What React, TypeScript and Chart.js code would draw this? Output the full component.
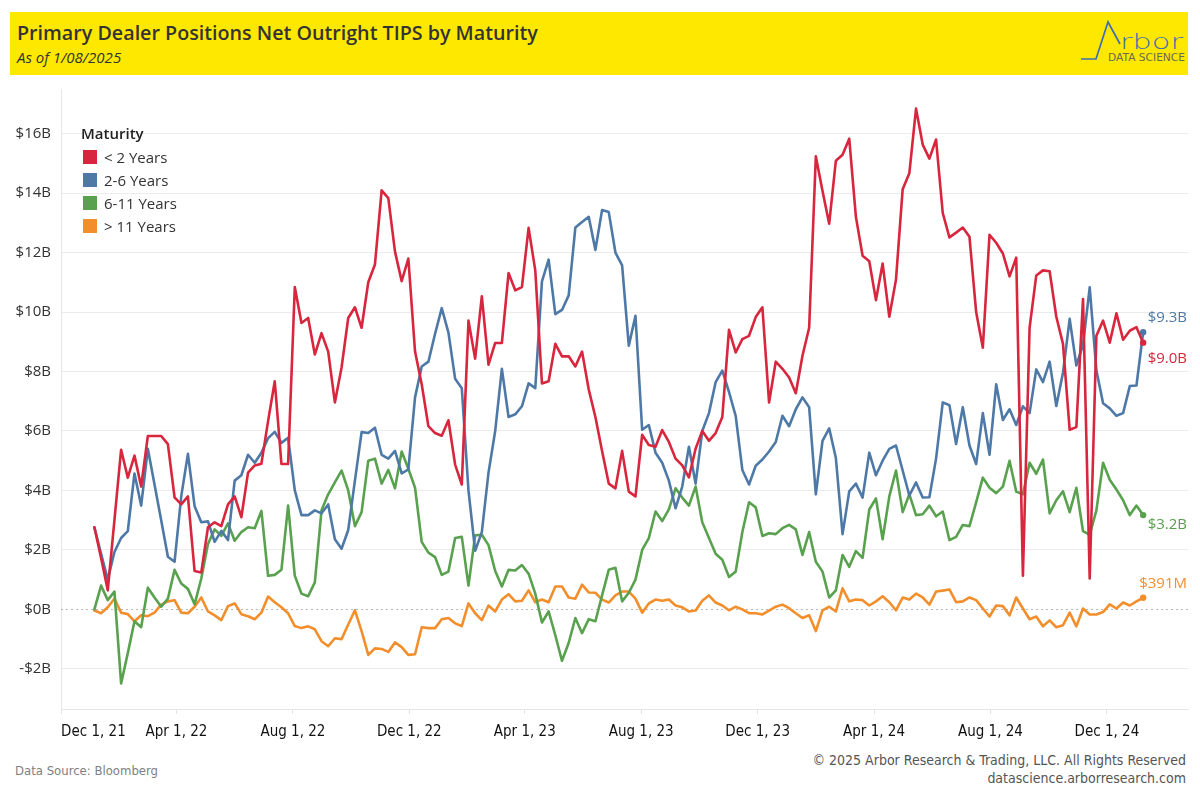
import React, { useEffect, useRef } from "react";
import { Chart, registerables } from "chart.js";

Chart.register(...registerables);

// ---------- DATA ----------
const firstWeek = "2022-01-05"; // weekly (Wednesday) observations
const weekCount = 158;

const seriesNames = ["< 2 Years", "2-6 Years", "6-11 Years", "> 11 Years"];
const seriesColors = ["#D7263D", "#4E79A7", "#59A14F", "#F28E2B"];

const under2Years = [
  2.76, 1.73, 0.64, 3.0, 5.37, 4.43, 5.17, 4.13, 5.83, 5.83,
  5.83, 5.56, 3.77, 3.53, 3.8, 1.29, 1.24, 2.76, 2.93, 2.8,
  3.53, 3.8, 3.1, 4.6, 4.84, 4.9, 6.33, 7.67, 4.89, 4.89,
  10.84, 9.63, 9.8, 8.57, 9.29, 8.67, 6.96, 8.13, 9.8, 10.16,
  9.47, 11.0, 11.6, 14.09, 13.83, 12.03, 11.04, 11.8, 8.67, 7.57,
  6.16, 5.93, 5.84, 6.36, 4.87, 4.2, 9.71, 8.43, 10.53, 8.23,
  8.96, 8.96, 11.31, 10.73, 10.84, 12.83, 11.4, 7.6, 7.67, 8.93,
  8.51, 8.51, 8.17, 8.67, 7.4, 6.47, 5.33, 4.23, 4.07, 5.33,
  3.96, 3.8, 5.87, 5.53, 5.47, 6.03, 5.63, 5.07, 4.84, 4.44,
  5.4, 6.0, 5.67, 5.93, 6.47, 9.4, 8.64, 9.09, 9.2, 9.83,
  10.16, 6.96, 8.33, 8.09, 7.8, 7.27, 8.53, 9.47, 15.24, 14.07,
  12.97, 15.09, 15.29, 15.83, 13.2, 11.89, 11.71, 10.4, 11.63, 9.84,
  11.09, 14.13, 14.67, 16.84, 15.63, 15.16, 15.8, 13.33, 12.51, 12.67,
  12.84, 12.53, 10.0, 8.8, 12.6, 12.33, 11.97, 11.2, 11.83, 1.13,
  9.47, 11.23, 11.4, 11.37, 9.84, 8.93, 6.04, 6.13, 10.44, 1.04,
  9.2, 9.71, 8.97, 9.96, 9.07, 9.37, 9.49, 8.97,
];

const years2to6 = [
  2.76, 1.87, 1.0, 1.93, 2.4, 2.63, 4.57, 3.49, 5.4, 4.2,
  3.0, 1.77, 1.6, 3.8, 5.23, 3.47, 2.93, 2.96, 2.27, 2.64,
  2.33, 4.33, 4.51, 5.2, 4.93, 5.27, 5.76, 5.97, 5.6, 5.77,
  4.0, 3.17, 3.17, 3.33, 3.23, 3.53, 2.36, 2.04, 2.67, 4.33,
  5.96, 5.93, 6.11, 5.2, 5.07, 5.33, 4.57, 4.71, 7.13, 8.17,
  8.33, 9.27, 10.13, 9.31, 7.76, 7.44, 4.0, 1.97, 2.6, 4.6,
  6.0, 8.09, 6.47, 6.56, 6.83, 7.6, 7.44, 11.03, 11.76, 9.93,
  10.07, 10.56, 12.84, 13.03, 13.2, 12.09, 13.43, 13.36, 12.0, 11.57,
  8.87, 9.87, 6.04, 6.2, 5.27, 4.93, 4.33, 3.4, 4.13, 5.47,
  4.23, 6.0, 6.6, 7.64, 8.03, 7.31, 6.51, 4.69, 4.2, 4.83,
  5.04, 5.31, 5.63, 6.51, 6.16, 6.73, 7.13, 6.8, 3.87, 5.67,
  6.09, 5.09, 2.53, 3.97, 4.23, 3.76, 5.27, 4.51, 5.0, 5.4,
  5.51, 4.67, 3.83, 4.27, 3.76, 3.77, 5.07, 6.96, 6.87, 5.56,
  6.8, 5.51, 4.89, 6.6, 5.2, 7.57, 6.37, 6.73, 6.2, 6.83,
  6.6, 8.07, 7.64, 8.33, 6.84, 7.96, 9.77, 8.2, 8.9, 10.83,
  8.04, 6.93, 6.76, 6.51, 6.6, 7.51, 7.53, 9.32,
];

const years6to11 = [
  0.0, 0.8, 0.31, 0.6, -2.49, -1.47, -0.4, -0.6, 0.73, 0.4,
  0.09, 0.36, 1.33, 0.87, 0.69, 0.17, 1.04, 2.2, 2.69, 2.47,
  2.89, 2.31, 2.6, 2.76, 2.73, 3.31, 1.13, 1.16, 1.33, 3.49,
  1.13, 0.53, 0.44, 0.91, 3.33, 3.87, 4.27, 4.67, 4.0, 2.8,
  3.27, 5.0, 5.07, 4.23, 4.69, 4.07, 5.31, 4.73, 4.09, 2.27,
  1.91, 1.76, 1.16, 1.27, 2.4, 2.44, 0.8, 2.49, 2.51, 2.16,
  1.29, 0.77, 1.33, 1.31, 1.49, 1.2, 0.53, -0.44, -0.07, -0.87,
  -1.73, -1.13, -0.29, -0.8, -0.33, -0.4, 0.47, 1.33, 1.4, 0.27,
  0.56, 1.0, 2.0, 2.4, 3.29, 2.97, 3.36, 4.07, 3.76, 3.49,
  4.13, 2.93, 2.4, 1.87, 1.67, 1.09, 1.27, 2.6, 3.6, 3.43,
  2.47, 2.56, 2.53, 2.73, 2.84, 2.69, 1.83, 2.6, 1.6, 1.27,
  0.4, 0.64, 1.83, 1.43, 1.96, 1.73, 3.36, 3.73, 2.36, 3.8,
  4.67, 3.27, 3.87, 3.17, 3.2, 3.49, 3.13, 3.29, 2.33, 2.44,
  2.84, 2.8, 3.6, 4.43, 4.09, 3.91, 4.13, 5.0, 3.96, 3.87,
  4.93, 4.56, 5.04, 3.23, 3.67, 3.97, 3.27, 4.09, 2.63, 2.51,
  3.33, 4.93, 4.36, 4.03, 3.67, 3.17, 3.49, 3.17,
];

const over11Years = [
  -0.04, -0.13, 0.07, 0.36, -0.11, -0.16, -0.4, -0.2, -0.23, -0.11,
  0.16, 0.27, 0.31, -0.11, -0.13, 0.09, 0.4, -0.07, -0.2, -0.36,
  0.11, 0.2, -0.16, -0.23, -0.33, -0.11, 0.43, 0.24, 0.07, -0.13,
  -0.56, -0.63, -0.57, -0.67, -1.07, -1.24, -0.97, -1.0, -0.51, -0.03,
  -0.73, -1.53, -1.31, -1.33, -1.43, -1.11, -1.27, -1.53, -1.51, -0.6,
  -0.63, -0.63, -0.33, -0.29, -0.47, -0.56, 0.2, -0.13, -0.36, 0.13,
  -0.07, 0.33, 0.51, 0.27, 0.29, 0.64, 0.24, 0.33, 0.24, 0.77,
  0.77, 0.4, 0.36, 0.83, 0.57, 0.56, 0.33, 0.23, 0.47, 0.6,
  0.6, 0.36, -0.11, 0.2, 0.33, 0.29, 0.33, 0.13, 0.07, -0.07,
  -0.04, 0.29, 0.47, 0.23, 0.13, -0.03, 0.09, 0.0, -0.13, -0.13,
  -0.17, -0.04, 0.09, 0.16, 0.04, -0.13, -0.29, -0.2, -0.73, -0.03,
  0.09, -0.07, 0.71, 0.27, 0.33, 0.31, 0.13, 0.27, 0.44, 0.24,
  -0.03, 0.4, 0.33, 0.53, 0.4, 0.16, 0.6, 0.63, 0.67, 0.24,
  0.27, 0.4, 0.31, 0.03, -0.24, 0.13, 0.11, -0.2, 0.4, 0.03,
  -0.33, -0.24, -0.57, -0.37, -0.6, -0.53, -0.11, -0.57, 0.03, -0.17,
  -0.17, -0.09, 0.17, 0.03, 0.23, 0.13, 0.27, 0.391,
];

const xTickDates = [
  "2021-12-01", "2022-04-01", "2022-08-01", "2022-12-01", "2023-04-01",
  "2023-08-01", "2023-12-01", "2024-04-01", "2024-08-01", "2024-12-01",
];
const xTickLabels = [
  "Dec 1, 21", "Apr 1, 22", "Aug 1, 22", "Dec 1, 22", "Apr 1, 23",
  "Aug 1, 23", "Dec 1, 23", "Apr 1, 24", "Aug 1, 24", "Dec 1, 24",
];
const xAxisStart = "2021-12-01";
const xAxisEnd = "2025-02-24";

const yTickValues = [-2, 0, 2, 4, 6, 8, 10, 12, 14, 16];
const yAxisMin = -3.35;
const yAxisMax = 17.5;

const allSeries = [under2Years, years2to6, years6to11, over11Years];

// ---------- HELPERS ----------
const DAY = 86400000;
const weekDates: number[] = [];
{
  const t0 = Date.parse(firstWeek);
  for (let i = 0; i < weekCount; i++) weekDates.push(t0 + i * 7 * DAY);
}

const fmtEnd = (v: number) =>
  Math.abs(v) >= 1 ? `$${v.toFixed(1)}B` : `$${Math.round(v * 1000)}M`;

const fmtY = (v: number) => (v < 0 ? `-$${Math.abs(v)}B` : `$${v}B`);

const AXIS_FONT = '"Liberation Sans Narrow", "DejaVu Sans Condensed", "Roboto Condensed", Arial, sans-serif';
const BODY_FONT = '"Open Sans", "Noto Sans", Arial, sans-serif';

const endLabelOffsets = [16, -15, 10, -14];

const zeroLinePlugin = {
  id: "zeroLine",
  beforeDatasetsDraw(chart: any) {
    const { ctx, chartArea, scales } = chart;
    const y = Math.round(scales.y.getPixelForValue(0)) + 0.5;
    ctx.save();
    ctx.strokeStyle = "#b8b8b8";
    ctx.lineWidth = 1;
    ctx.setLineDash([2, 3]);
    ctx.beginPath();
    ctx.moveTo(chartArea.left, y);
    ctx.lineTo(chartArea.right, y);
    ctx.stroke();
    ctx.restore();
  },
};

const endLabelPlugin = {
  id: "endLabels",
  afterDatasetsDraw(chart: any) {
    const { ctx, chartArea } = chart;
    ctx.save();
    ctx.font = `15px ${BODY_FONT}`;
    ctx.textAlign = "right";
    ctx.textBaseline = "middle";
    chart.data.datasets.forEach((ds: any, di: number) => {
      const meta = chart.getDatasetMeta(di);
      const pt = meta.data[meta.data.length - 1];
      if (!pt) return;
      const v = ds.data[ds.data.length - 1].y;
      ctx.fillStyle = ds.borderColor;
      ctx.fillText(fmtEnd(v), chartArea.right - 1, pt.y + endLabelOffsets[di]);
    });
    ctx.restore();
  },
};

export default function App() {
  const canvasRef = useRef<HTMLCanvasElement | null>(null);

  useEffect(() => {
    if (!canvasRef.current) return;
    const xMin = Date.parse(xAxisStart);
    const xMax = Date.parse(xAxisEnd);
    const tickVals = xTickDates.map((d) => Date.parse(d));

    const chart = new Chart(canvasRef.current, {
      type: "line",
      data: {
        datasets: allSeries.map((vals, si) => ({
          label: seriesNames[si],
          data: vals.map((v, i) => ({ x: weekDates[i], y: v })),
          borderColor: seriesColors[si],
          backgroundColor: seriesColors[si],
          borderWidth: 2.6,
          tension: 0,
          pointRadius: (c: any) => (c.dataIndex === vals.length - 1 ? 3.2 : 0),
          pointHoverRadius: 0,
          pointBorderWidth: 0,
          borderJoinStyle: "round" as const,
          borderCapStyle: "round" as const,
        })),
      },
      options: {
        animation: false,
        responsive: true,
        maintainAspectRatio: false,
        layout: { padding: { top: 8, right: 12, bottom: 0, left: 0 } },
        plugins: {
          legend: { display: false },
          tooltip: { enabled: false },
        },
        events: [],
        scales: {
          x: {
            type: "linear",
            min: xMin,
            max: xMax,
            afterBuildTicks: (scale: any) => {
              scale.ticks = [...tickVals.map((v) => ({ value: v })), { value: xMax }];
            },
            afterFit: (scale: any) => {
              scale.height = 42;
            },
            ticks: {
              autoSkip: false,
              maxRotation: 0,
              minRotation: 0,
              align: "inner",
              padding: 9,
              color: "#111",
              font: { family: AXIS_FONT, size: 15 },
              callback: (_v: any, i: number) => xTickLabels[i] ?? "",
            },
            grid: {
              drawOnChartArea: false,
              drawTicks: true,
              tickLength: 5,
              color: (c: any) => (c.index === tickVals.length ? "rgba(0,0,0,0)" : "#e3e3e3"),
            },
            border: { display: true, color: "#e6e6e6" },
          },
          y: {
            type: "linear",
            min: yAxisMin,
            max: yAxisMax,
            afterBuildTicks: (scale: any) => {
              scale.ticks = yTickValues.map((v) => ({ value: v }));
            },
            afterFit: (scale: any) => {
              scale.width = 61;
            },
            ticks: {
              padding: 10,
              color: "#333",
              font: { family: BODY_FONT, size: 15 },
              callback: (v: any) => fmtY(Number(v)),
            },
            grid: {
              drawTicks: false,
              color: (c: any) => (c.tick && c.tick.value === 0 ? "rgba(0,0,0,0)" : "#ebebeb"),
              lineWidth: 1,
            },
            border: { display: true, color: "#e6e6e6" },
          },
        },
      },
      plugins: [zeroLinePlugin, endLabelPlugin],
    } as any);

    return () => chart.destroy();
  }, []);

  return (
    <div
      style={{
        position: "fixed",
        left: 0,
        top: 0,
        width: 1200,
        height: 800,
        background: "#fff",
        overflow: "hidden",
        fontFamily: BODY_FONT,
      }}
    >
      {/* Header band */}
      <div
        style={{
          position: "absolute",
          left: 10,
          top: 12,
          width: 1178,
          height: 63,
          background: "#FFE800",
        }}
      />
      <div
        style={{
          position: "absolute",
          left: 17,
          top: 20,
          fontSize: 19.7,
          lineHeight: "26px",
          fontWeight: 600,
          color: "#333",
          fontFamily: '"Open Sans", "Noto Sans", Arial, sans-serif',
          whiteSpace: "nowrap",
        }}
      >
        Primary Dealer Positions Net Outright TIPS by Maturity
      </div>
      <div
        style={{
          position: "absolute",
          left: 17,
          top: 47,
          fontSize: 15,
          lineHeight: "20px",
          fontStyle: "italic",
          color: "#333",
          fontFamily: '"Open Sans", "Noto Sans", Arial, sans-serif',
          whiteSpace: "nowrap",
        }}
      >
        As of 1/08/2025
      </div>
      {/* Logo */}
      <svg
        style={{ position: "absolute", left: 1075, top: 14, width: 115, height: 56 }}
        viewBox="0 0 115 56"
      >
        <polyline
          points="6,45 21,45 33,8 45,30"
          fill="none"
          stroke="#3F6FAF"
          strokeWidth={1.7}
        />
        <text
          x={45}
          y={34.5}
          fontSize={21}
          fill="#3F6FAF"
          fontFamily='"DejaVu Sans", "Liberation Sans", Arial, sans-serif'
          fontWeight={200}
          textLength={63}
          lengthAdjust="spacingAndGlyphs"
        >
          rbor
        </text>
        <text
          x={33}
          y={47}
          fontSize={10}
          fill="#6a6a55"
          fontFamily='"DejaVu Sans", "Liberation Sans", Arial, sans-serif'
          textLength={77}
          lengthAdjust="spacingAndGlyphs"
        >
          DATA SCIENCE
        </text>
      </svg>

      {/* Chart */}
      <div style={{ position: "absolute", left: 0, top: 70, width: 1200, height: 681 }}>
        <canvas ref={canvasRef} />
      </div>

      {/* Legend */}
      <div style={{ position: "absolute", left: 81, top: 123, color: "#222" }}>
        <div style={{ fontSize: 15, fontWeight: 600, lineHeight: "20px", marginBottom: 2 }}>Maturity</div>
        {seriesNames.map((n, i) => (
          <div
            key={n}
            style={{ display: "flex", alignItems: "center", height: 23, fontSize: 15, color: "#333" }}
          >
            <span
              style={{
                display: "inline-block",
                width: 14,
                height: 14,
                background: seriesColors[i],
                marginLeft: 2,
                marginRight: 7,
              }}
            />
            <span>{n}</span>
          </div>
        ))}
      </div>

      {/* Footer */}
      <div
        style={{
          position: "absolute",
          left: 15,
          top: 763,
          fontSize: 13,
          color: "#808080",
          fontFamily: AXIS_FONT,
        }}
      >
        Data Source: Bloomberg
      </div>
      <div
        style={{
          position: "absolute",
          right: 14,
          top: 751,
          fontSize: 14,
          lineHeight: "18px",
          color: "#555",
          textAlign: "right",
          fontFamily: AXIS_FONT,
        }}
      >
        <div>© 2025 Arbor Research &amp; Trading, LLC. All Rights Reserved</div>
        <div>datascience.arborresearch.com</div>
      </div>
    </div>
  );
}
